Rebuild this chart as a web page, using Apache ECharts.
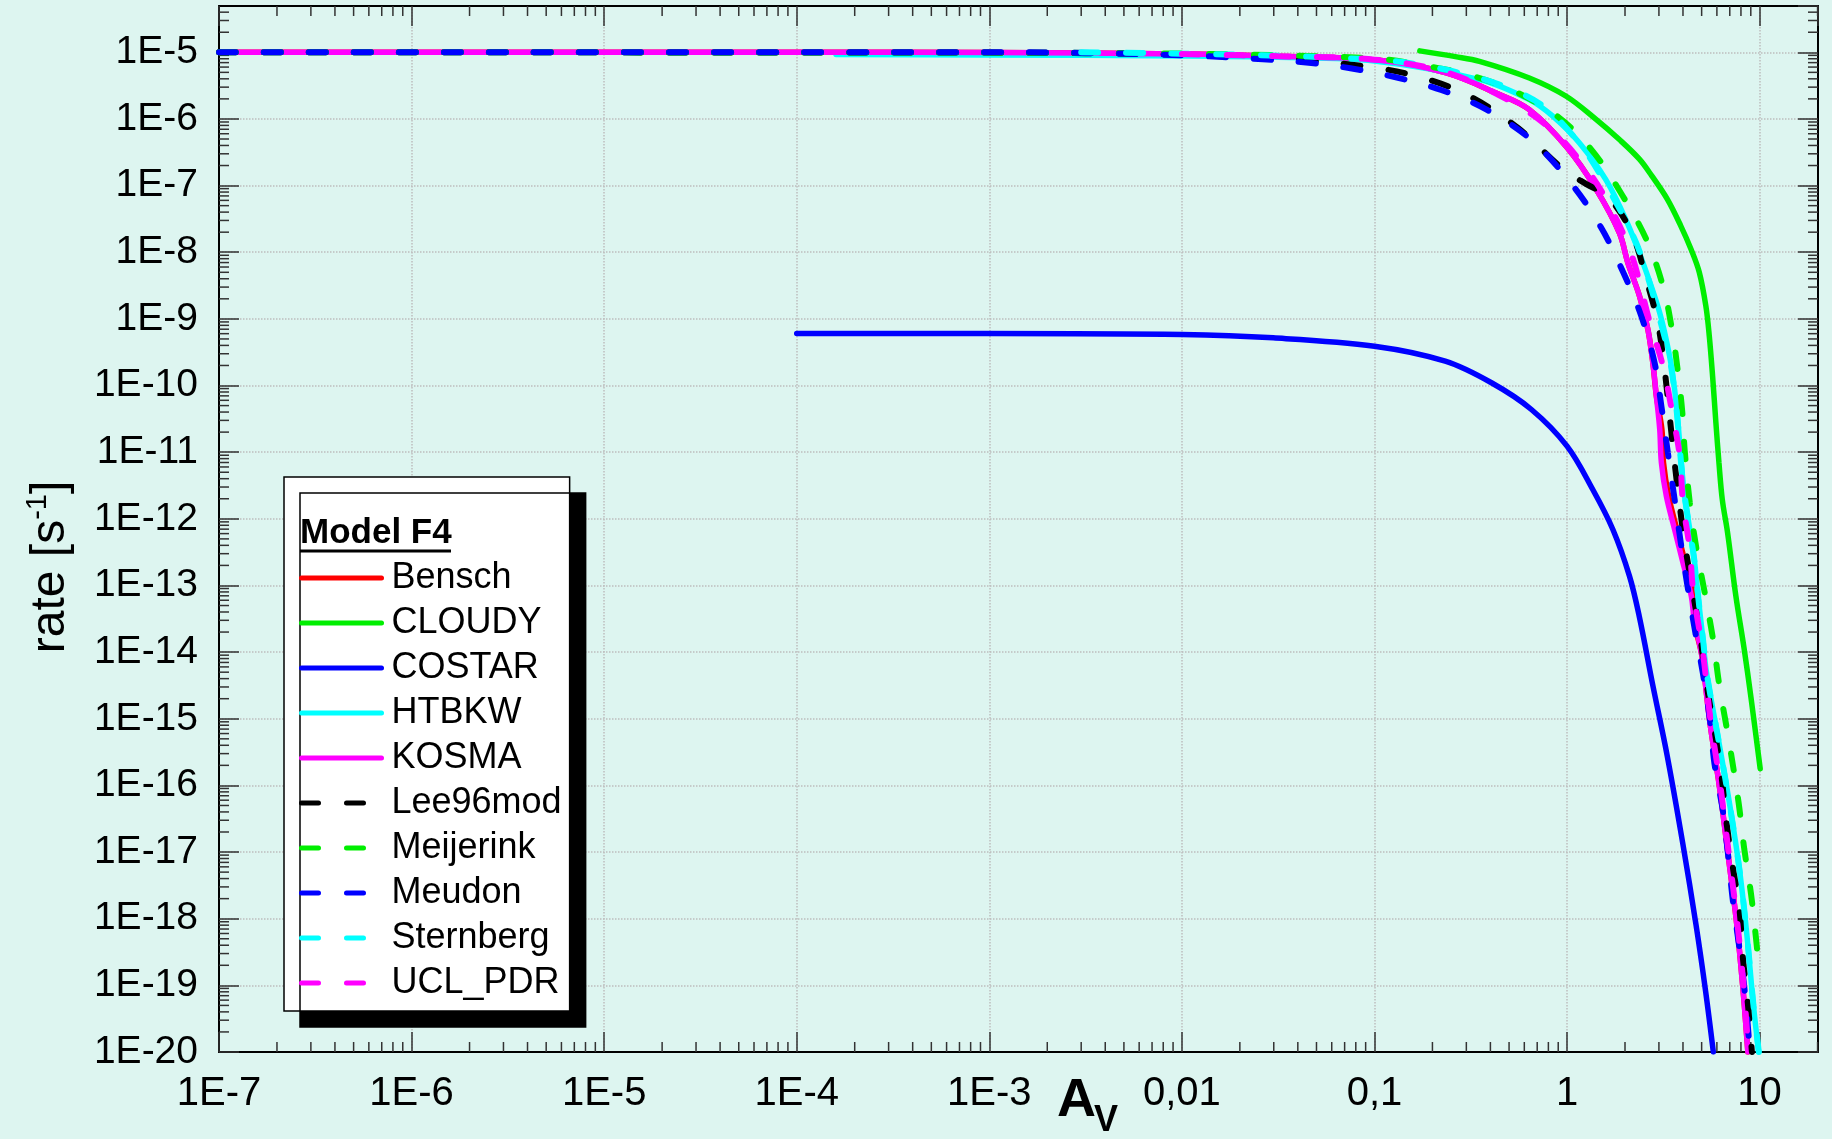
<!DOCTYPE html>
<html><head><meta charset="utf-8">
<script src="https://cdn.jsdelivr.net/npm/echarts@6/dist/echarts.min.js"></script>
<style>html,body{margin:0;padding:0;background:#ddf5f0;}#chart{width:1832px;height:1139px;}</style>
</head><body><div id="chart"></div>
<script>
const seriesNames = ['Bensch','CLOUDY','COSTAR','HTBKW','KOSMA','Lee96mod','Meijerink','Meudon','Sternberg','UCL_PDR'];
const xTickLabels = ['1E-7','1E-6','1E-5','1E-4','1E-3','0,01','0,1','1','10'];
const yTickLabels = ['1E-20','1E-19','1E-18','1E-17','1E-16','1E-15','1E-14','1E-13','1E-12','1E-11','1E-10','1E-9','1E-8','1E-7','1E-6','1E-5'];
const legendTitle = 'Model F4';

const benschAv   = [1e-7,1e-4,1e-3,0.01,0.0316,0.106,0.236,0.428,0.637,1.0,1.42,1.87,2.07,2.38,2.63,2.79,2.91,3.11,3.17,3.37,3.72,4.11,4.54,4.57,5.01,5.50,6.19,6.85,7.57,8.18,8.69];
const benschRate = [1e-5,1e-5,9.89e-6,9.42e-6,8.71e-6,7.59e-6,4.90e-6,2.45e-6,1.38e-6,3.72e-7,8.71e-8,1.95e-8,6.92e-9,2.19e-9,6.92e-10,2.19e-10,6.92e-11,2.19e-11,6.92e-12,2.19e-12,6.92e-13,2.19e-13,6.92e-14,3.16e-14,8.91e-15,9.44e-16,9.44e-17,9.44e-18,9.44e-19,9.44e-20,1e-20];

const cloudyAv   = [0.172,0.263,0.351,0.637,0.99,1.42,1.87,2.37,2.75,3.31,3.89,4.41,4.86,5.26,5.48,5.70,5.93,6.15,6.40,6.82,7.53,8.32,9.02,10.07];
const cloudyRate = [1.05e-5,8.61e-6,7.33e-6,4.12e-6,2.19e-6,9.77e-7,4.90e-7,2.51e-7,1.41e-7,6.31e-8,2.51e-8,1.10e-8,5.01e-9,1.55e-9,5.50e-10,1.38e-10,2.75e-11,6.92e-12,1.95e-12,6.17e-13,6.92e-14,1.10e-14,2.07e-15,1.78e-16];

const costarAv   = [1e-4,1e-3,0.01,0.0298,0.1,0.233,0.405,0.653,1.0,1.36,1.73,2.11,2.37,2.79,3.31,3.98,4.68,5.25,5.75];
const costarRate = [6.03e-10,6.03e-10,5.82e-10,5.19e-10,3.89e-10,2.32e-10,1.10e-10,4.37e-11,1.23e-11,2.75e-12,6.92e-13,1.38e-13,3.47e-14,3.16e-15,2.82e-16,1.41e-17,7.94e-19,7.94e-20,1e-20];

const htbkwAv    = [1.6e-4,1e-3,0.01,0.0316,0.1,0.351,0.637,0.843,1.16,1.59,2.02,2.48,3.03,3.41,3.62,3.77,3.92,4.08,4.34,4.60,4.79,5.08,5.28,6.08,6.98,7.87,8.61,9.27,9.89];
const htbkwRate  = [9.23e-6,9.12e-6,8.81e-6,8.41e-6,7.41e-6,3.89e-6,1.95e-6,1.10e-6,4.37e-7,1.23e-7,3.09e-8,6.92e-9,1.23e-9,2.75e-10,8.71e-11,2.75e-11,6.92e-12,2.19e-12,6.92e-13,2.19e-13,6.92e-14,1.55e-14,5.31e-15,5.31e-16,5.31e-17,5.31e-18,5.31e-19,5.31e-20,1e-20];

const kosmaAv    = [1e-7,1e-4,1e-3,0.01,0.0316,0.106,0.236,0.428,0.637,1.0,1.42,1.87,2.07,2.38,2.63,2.79,2.91,3.03,3.09,3.28,3.62,4.0,4.42,4.57,5.01,5.50,6.19,6.85,7.57,8.18,8.69];
const kosmaRate  = [1e-5,1e-5,9.89e-6,9.42e-6,8.71e-6,7.59e-6,4.90e-6,2.45e-6,1.38e-6,3.72e-7,8.71e-8,1.95e-8,6.92e-9,2.19e-9,6.92e-10,2.19e-10,6.92e-11,2.19e-11,6.92e-12,2.19e-12,6.92e-13,2.19e-13,6.92e-14,3.16e-14,8.91e-15,9.44e-16,9.44e-17,9.44e-18,9.44e-19,9.44e-20,1e-20];

const lee96Av    = [1e-7,1e-3,0.01,0.0316,0.1,0.191,0.324,0.556,0.953,1.26,1.63,2.17,2.58,2.96,3.21,3.41,3.62,3.85,4.08,4.47,4.89,5.40,5.83,6.32,6.71,7.26,7.87,8.18,8.69,9.12];
const lee96Rate  = [1e-5,9.89e-6,9.23e-6,8.13e-6,5.89e-6,3.89e-6,2.07e-6,7.33e-7,1.78e-7,1.05e-7,6.84e-8,1.93e-8,3.89e-9,8.71e-10,1.74e-10,3.47e-11,6.92e-12,1.55e-12,4.37e-13,8.91e-14,1.88e-14,2.37e-15,6.68e-16,1.50e-16,2.99e-17,5.96e-18,1.33e-18,2.66e-19,5.31e-20,1e-20];

const meijerinkAv   = [1e-7,1e-3,0.01,0.0316,0.108,0.178,0.311,0.533,0.912,1.36,1.95,2.61,3.17,3.53,3.80,3.97,4.08,4.34,4.69,5.19,5.73,6.18,6.97,7.78,8.32,9.02,9.57,10];
const meijerinkRate = [1e-5,9.89e-6,9.55e-6,9.02e-6,7.94e-6,6.38e-6,4.57e-6,2.60e-6,1.04e-6,3.27e-7,6.92e-8,1.45e-8,2.88e-9,6.10e-10,1.29e-10,3.89e-11,1.10e-11,1.74e-12,3.67e-13,7.76e-14,1.55e-14,3.16e-15,4.22e-16,5.50e-17,1.12e-17,2.37e-18,5.19e-19,1.41e-19];

const meudonAv   = [1e-7,1e-3,0.0025,0.01,0.0263,0.047,0.075,0.129,0.222,0.378,0.653,1.05,1.50,1.96,2.43,2.85,3.09,3.34,3.62,3.92,4.25,4.60,5.08,5.50,5.83,6.44,6.85,7.26,7.82,8.36,8.91];
const meudonRate = [1e-5,1e-5,9.89e-6,9.02e-6,7.85e-6,6.92e-6,5.75e-6,4.22e-6,2.72e-6,1.40e-6,4.84e-7,1.08e-7,2.37e-8,4.95e-9,1.10e-9,2.19e-10,4.90e-11,9.77e-12,1.95e-12,3.89e-13,8.71e-14,2.24e-14,4.73e-15,1.06e-15,2.11e-16,4.22e-17,9.44e-18,1.88e-18,3.98e-19,8.41e-20,1e-20];

const sternbergAv   = [0.003,0.01,0.0316,0.1,0.143,0.255,0.446,0.753,1.19,1.59,2.23,2.58,3.03,3.41,3.62,3.77,3.92,4.10,4.36,4.62,4.81,5.10,5.30,6.10,7.00,7.89,8.63,9.29,9.91];
const sternbergRate = [1e-5,9.55e-6,8.91e-6,7.76e-6,7.08e-6,5.19e-6,3.27e-6,1.55e-6,3.89e-7,1.04e-7,1.64e-8,5.01e-9,1e-9,2.51e-10,7.94e-11,2.51e-11,6.31e-12,2.00e-12,6.31e-13,2.00e-13,6.31e-14,1.41e-14,5.01e-15,5.01e-16,5.01e-17,5.01e-18,5.01e-19,5.01e-20,1e-20];

const uclAv   = [0.01,0.0316,0.1,0.236,0.526,0.859,1.26,1.59,2.14,2.69,3.15,3.52,3.85,4.0,4.34,4.51,5.1,5.55,6.25,6.9,7.62,8.25,8.75];
const uclRate = [9.42e-6,8.71e-6,7.76e-6,5.01e-6,1.74e-6,6.31e-7,1.78e-7,6.31e-8,1e-8,8.91e-10,1.95e-10,3.89e-11,8.71e-12,1.74e-12,3.47e-13,8.71e-14,8.91e-15,1e-15,1e-16,1e-17,1e-18,1e-19,1e-20];

const X_MIN = 1e-7, X_MAX = 20.1, Y_MIN = 1e-20, Y_MAX = 4.95e-5;
const FONT = '"Liberation Sans", Arial, sans-serif';

function pairs(a, r) { return a.map((v, i) => [v, r[i]]); }
const dashPat = [17, 28];
const defs = [
  ['Bensch',    benschAv,    benschRate,    '#ff0000', 'solid'],
  ['CLOUDY',    cloudyAv,    cloudyRate,    '#00ee00', 'solid'],
  ['COSTAR',    costarAv,    costarRate,    '#0000ff', 'solid'],
  ['HTBKW',     htbkwAv,     htbkwRate,     '#00ffff', 'solid'],
  ['KOSMA',     kosmaAv,     kosmaRate,     '#ff00ff', 'solid'],
  ['Lee96mod',  lee96Av,     lee96Rate,     '#000000', 'dash'],
  ['Meijerink', meijerinkAv, meijerinkRate, '#00ee00', 'dash'],
  ['Meudon',    meudonAv,    meudonRate,    '#0000ff', 'dash'],
  ['Sternberg', sternbergAv, sternbergRate, '#00ffff', 'dash'],
  ['UCL_PDR',   uclAv,       uclRate,       '#ff00ff', 'dash']
];

const lineSeries = defs.map(d => ({
  name: d[0], type: 'line', data: pairs(d[1], d[2]),
  showSymbol: false, symbol: 'none', smooth: 0.35,
  xAxisIndex: 0, yAxisIndex: 0, clip: true,
  color: d[3],
  itemStyle: { color: d[3] },
  lineStyle: { color: d[3], width: d[4] === 'solid' ? 5.5 : 6, type: d[4] === 'solid' ? 'solid' : dashPat, cap: 'round' },
  emphasis: { disabled: true }
}));

// minor log ticks (2..9 per decade) on all four sides
const minorTicks = [];
for (let e = -7; e <= 1; e++) for (let k = 2; k <= 9; k++) {
  const v = k * Math.pow(10, e);
  if (v < X_MAX) { minorTicks.push([v, Y_MIN, 2]); minorTicks.push([v, Y_MIN, 3]); }
}
for (let e = -20; e <= -5; e++) for (let k = 2; k <= 9; k++) {
  const v = k * Math.pow(10, e);
  if (v < Y_MAX) { minorTicks.push([X_MIN, v, 0]); minorTicks.push([X_MIN, v, 1]); }
}
const tickSeries = {
  type: 'custom', data: minorTicks, silent: true, z: 3,
  xAxisIndex: 0, yAxisIndex: 0,
  renderItem: function (params, api) {
    const cs = params.coordSys;
    const side = api.value(2);
    const p = api.coord([api.value(0), api.value(1)]);
    let s;
    if (side === 0) s = { x1: cs.x, y1: p[1], x2: cs.x + 10, y2: p[1] };
    else if (side === 1) s = { x1: cs.x + cs.width, y1: p[1], x2: cs.x + cs.width - 10, y2: p[1] };
    else if (side === 2) s = { x1: p[0], y1: cs.y, x2: p[0], y2: cs.y + 10 };
    else s = { x1: p[0], y1: cs.y + cs.height, x2: p[0], y2: cs.y + cs.height - 10 };
    return { type: 'line', shape: s, style: { stroke: '#333', lineWidth: 1.5 } };
  }
};

function expLabel(v, arr, off) {
  const e = Math.log10(v), r = Math.round(e);
  if (Math.abs(e - r) > 1e-6) return '';
  return arr[r + off] || '';
}

const axisLineStyle = { show: true, lineStyle: { color: '#000', width: 2 } };
const majorTick = { show: true, inside: true, length: 20, lineStyle: { color: '#333', width: 1.5 } };
const gridSplit = { show: true, lineStyle: { type: 'dotted', color: '#bdbdbd', width: 1.5 } };

const option = {
  backgroundColor: '#ddf5f0',
  animation: false,
  grid: { left: 219, right: 14, top: 6, bottom: 87, containLabel: false, outerBoundsMode: 'none' },
  xAxis: [
    { type: 'log', logBase: 10, min: X_MIN, max: X_MAX, interval: 1, position: 'bottom',
      axisLine: axisLineStyle, axisTick: majorTick, splitLine: gridSplit, minorTick: { show: false },
      axisLabel: { fontSize: 40, fontFamily: FONT, color: '#000', margin: 22, showMaxLabel: false,
        formatter: v => expLabel(v, xTickLabels, 7) } },
    { type: 'log', logBase: 10, min: X_MIN, max: X_MAX, interval: 1, position: 'top',
      axisLine: axisLineStyle, axisTick: majorTick, splitLine: { show: false }, axisLabel: { show: false } }
  ],
  yAxis: [
    { type: 'log', logBase: 10, min: Y_MIN, max: Y_MAX, interval: 1, position: 'left',
      axisLine: axisLineStyle, axisTick: majorTick, splitLine: gridSplit,
      axisLabel: { fontSize: 39, fontFamily: FONT, color: '#000', margin: 21, showMaxLabel: false,
        formatter: v => expLabel(v, yTickLabels, 20) },
      name: '{a|rate [s}{s|-1}{a|]}', nameLocation: 'middle', nameGap: 141, nameRotate: 90,
      nameTextStyle: { padding: [0, 76, 0, 0],
        rich: { a: { fontSize: 48, fontFamily: FONT, color: '#000' },
                s: { fontSize: 29, fontFamily: FONT, color: '#000', padding: [0, 0, 26, 0] } } } },
    { type: 'log', logBase: 10, min: Y_MIN, max: Y_MAX, interval: 1, position: 'right',
      axisLine: axisLineStyle, axisTick: majorTick, splitLine: { show: false }, axisLabel: { show: false } }
  ],
  legend: {
    orient: 'vertical', left: 284, top: 477,
    data: seriesNames,
    padding: [81, 8, 8, 15],
    itemWidth: 80, itemHeight: 14, itemGap: 5,
    itemStyle: { opacity: 0 },
    lineStyle: { width: 5, cap: 'round' },
    backgroundColor: '#ffffff', borderColor: '#000', borderWidth: 1.5,
    shadowColor: '#000', shadowBlur: 0, shadowOffsetX: 16, shadowOffsetY: 16,
    textStyle: { fontSize: 36, lineHeight: 40, fontFamily: FONT, color: '#000', padding: [0, 0, 0, 5] },
    selectedMode: false
  },
  graphic: [
    { type: 'text', x: 300, y: 533, z: 50,
      style: { text: legendTitle, font: 'bold 35px ' + FONT, fill: '#000', verticalAlign: 'middle' } },
    { type: 'line', z: 50, shape: { x1: 300, y1: 551, x2: 451, y2: 551 }, style: { stroke: '#000', lineWidth: 3 } },
    { type: 'text', x: 1057, y: 1101, z: 50,
      style: { text: 'A', font: 'bold 54px ' + FONT, fill: '#000', verticalAlign: 'middle' } },
    { type: 'text', x: 1094, y: 1121, z: 50,
      style: { text: 'V', font: 'bold 36px ' + FONT, fill: '#000', verticalAlign: 'middle' } }
  ],
  series: [tickSeries].concat(lineSeries)
};

const chart = echarts.init(document.getElementById('chart'), null, { renderer: 'canvas' });
chart.setOption(option);
</script>
</body></html>
